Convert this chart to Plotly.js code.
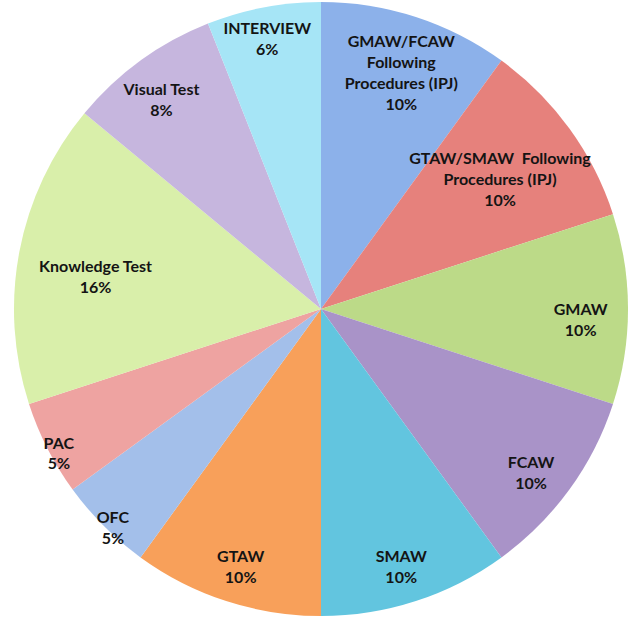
<!DOCTYPE html>
<html>
<head>
<meta charset="utf-8">
<script src="https://cdn.plot.ly/plotly-3.0.1.min.js"></script>
<style>
html,body{margin:0;padding:0;background:#fff;width:631px;height:618px;overflow:hidden;position:relative;}
#chart{position:absolute;left:-19px;top:-21px;width:680px;height:680px;}
</style>
</head>
<body>
<div id="chart"></div>
<script>
var labels = [
  "GMAW/FCAW<br>Following<br>Procedures (IPJ)",
  "GTAW/SMAW  Following<br>Procedures (IPJ)",
  "GMAW",
  "FCAW",
  "SMAW",
  "GTAW",
  "OFC",
  "PAC",
  "Knowledge Test",
  "Visual Test",
  "INTERVIEW"
];
var values = [10, 10, 10, 10, 10, 10, 5, 5, 16, 8, 6];
var colors = ["#8cb1ea", "#e6817c", "#bcda88", "#a993c8", "#62c5df", "#f8a05a",
              "#a3bfea", "#eea3a1", "#d9efaa", "#c6b6de", "#a6e5f6"];

var TPL = "%{label}<br>%{percent:.0%}";
var wideLabel = 1; // the long two-line label that sits closer to the centre
var clear = labels.map(function(){return "rgba(0,0,0,0)";});
var font = {family: "Lato, 'Open Sans', sans-serif", size: 16, color: "#141414", weight: "bold"};

// visible pie (slices only)
var slices = {
  type: "pie",
  labels: labels,
  values: values,
  sort: false,
  direction: "clockwise",
  rotation: 0,
  domain: {x: [0.0485, 0.9515], y: [0.0632, 0.9662]},
  marker: {colors: colors, line: {width: 0}},
  textinfo: "none",
  hoverinfo: "label+percent",
  showlegend: false
};

function textLayer(domain, tpl) {
  return {
    type: "pie",
    labels: labels,
    values: values,
    sort: false,
    direction: "clockwise",
    rotation: 0,
    domain: domain,
    marker: {colors: clear, line: {width: 0}},
    texttemplate: tpl,
    textposition: "inside",
    insidetextorientation: "horizontal",
    textfont: font,
    hoverinfo: "skip",
    showlegend: false
  };
}

var outerText = textLayer({x: [0, 1], y: [0, 1]},
  labels.map(function(l, i){ return i === wideLabel ? "" : TPL; }));
var innerText = textLayer({x: [0.0735, 0.9265], y: [0.0882, 0.9412]},
  labels.map(function(l, i){ return i === wideLabel ? TPL : ""; }));

var layout = {
  width: 680,
  height: 680,
  margin: {l: 0, r: 0, t: 0, b: 0},
  paper_bgcolor: "rgba(0,0,0,0)",
  showlegend: false,
  uniformtext: {mode: "show", minsize: 16}
};

Plotly.newPlot("chart", [slices, outerText, innerText], layout, {displayModeBar: false});
</script>
</body>
</html>
